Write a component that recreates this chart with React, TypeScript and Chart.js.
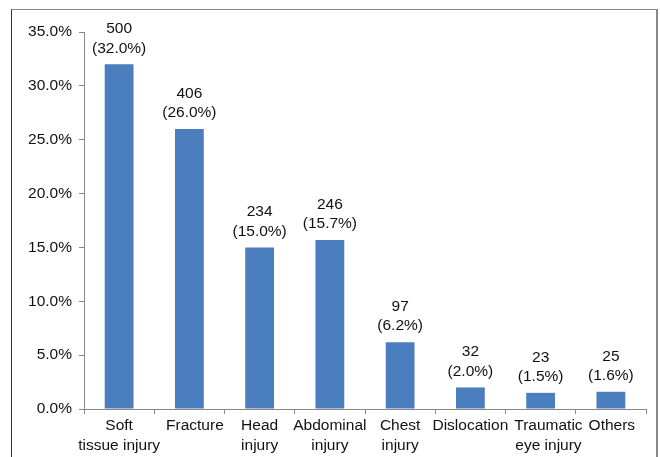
import React, { useEffect, useRef } from "react";
import { Chart, registerables } from "chart.js";

Chart.register(...registerables);

const categories: string[][] = [
  ["Soft", "tissue injury"],
  ["Fracture"],
  ["Head", "injury"],
  ["Abdominal", "injury"],
  ["Chest", "injury"],
  ["Dislocation"],
  ["Traumatic", "eye injury"],
  ["Others"],
];
const percentages: number[] = [32.0, 26.0, 15.0, 15.7, 6.2, 2.0, 1.5, 1.6];
const counts: number[] = [500, 406, 234, 246, 97, 32, 23, 25];

const FONT = "'Liberation Sans', Arial, sans-serif";
const TEXT = "#111111";
const FONT_SIZE = 15.5;

const labelPlugin = {
  id: "barLabels",
  afterDatasetsDraw(chart: any) {
    const ctx = chart.ctx;
    const meta = chart.getDatasetMeta(0);
    ctx.save();
    ctx.font = `${FONT_SIZE}px ${FONT}`;
    ctx.fillStyle = TEXT;
    ctx.textAlign = "center";
    ctx.textBaseline = "middle";
    meta.data.forEach((el: any, i: number) => {
      const x = el.x;
      const y = el.y;
      ctx.fillText(String(counts[i]), x, y - 16 - 19.5);
      ctx.fillText(`(${percentages[i].toFixed(1)}%)`, x, y - 16);
    });

    // category labels with simple collision avoidance
    const xs = chart.scales.x;
    const top = xs.top + 5 + 12;
    const lineH = 19.5;
    let prevRight = -Infinity;
    categories.forEach((lines, i) => {
      const cx = xs.getPixelForValue(i);
      const w = Math.max(...lines.map((l) => ctx.measureText(l).width));
      let left = cx - w / 2;
      if (left < prevRight + 6) left = prevRight + 6;
      const center = left + w / 2;
      lines.forEach((l, j) => {
        ctx.fillText(l, center, top + j * lineH);
      });
      prevRight = left + w;
    });
    ctx.restore();
  },
};

export default function App() {
  const ref = useRef<HTMLCanvasElement | null>(null);
  useEffect(() => {
    if (!ref.current) return;
    const chart = new Chart(ref.current, {
      type: "bar",
      data: {
        labels: categories,
        datasets: [
          {
            data: percentages,
            backgroundColor: "#4A7EBF",
            borderWidth: 0,
            barPercentage: 0.41,
            categoryPercentage: 1,
          },
        ],
      },
      options: {
        animation: false,
        responsive: false,
        maintainAspectRatio: false,
        layout: { padding: { top: 32, right: 14, left: 0, bottom: 0 } },
        plugins: {
          legend: { display: false },
          tooltip: { enabled: false },
        },
        scales: {
          x: {
            offset: true,
            afterFit(scale: any) {
              scale.height = 48;
            },
            grid: {
              offset: true,
              drawOnChartArea: false,
              drawTicks: true,
              tickLength: 5,
              color: "#888888",
            },
            border: { color: "#888888", width: 1 },
            ticks: {
              display: false,
              autoSkip: false,
            },
          },
          y: {
            min: 0,
            max: 35,
            afterFit(scale: any) {
              scale.width = 84;
            },
            grid: {
              drawOnChartArea: false,
              drawTicks: true,
              tickLength: 5,
              color: "#888888",
            },
            border: { color: "#888888", width: 1 },
            ticks: {
              stepSize: 5,
              color: TEXT,
              font: { family: FONT, size: FONT_SIZE },
              padding: 7,
              callback: (v: any) => Number(v).toFixed(1) + "%",
            },
          },
        },
      },
      plugins: [labelPlugin],
    });
    return () => chart.destroy();
  }, []);

  return (
    <div style={{ position: "absolute", left: 0, top: 0, width: 660, height: 457, overflow: "hidden", background: "#fff" }}>
      <div
        style={{
          position: "absolute",
          left: 11,
          top: 9,
          width: 644,
          height: 470,
          borderTop: "1px solid #888",
          borderRight: "2px solid #888",
          borderLeft: "1px solid #333",
          borderBottom: "1px solid #888",
        }}
      />
      <canvas ref={ref} width={660} height={457} style={{ position: "absolute", left: 0, top: 0, width: 660, height: 457 }} />
    </div>
  );
}
